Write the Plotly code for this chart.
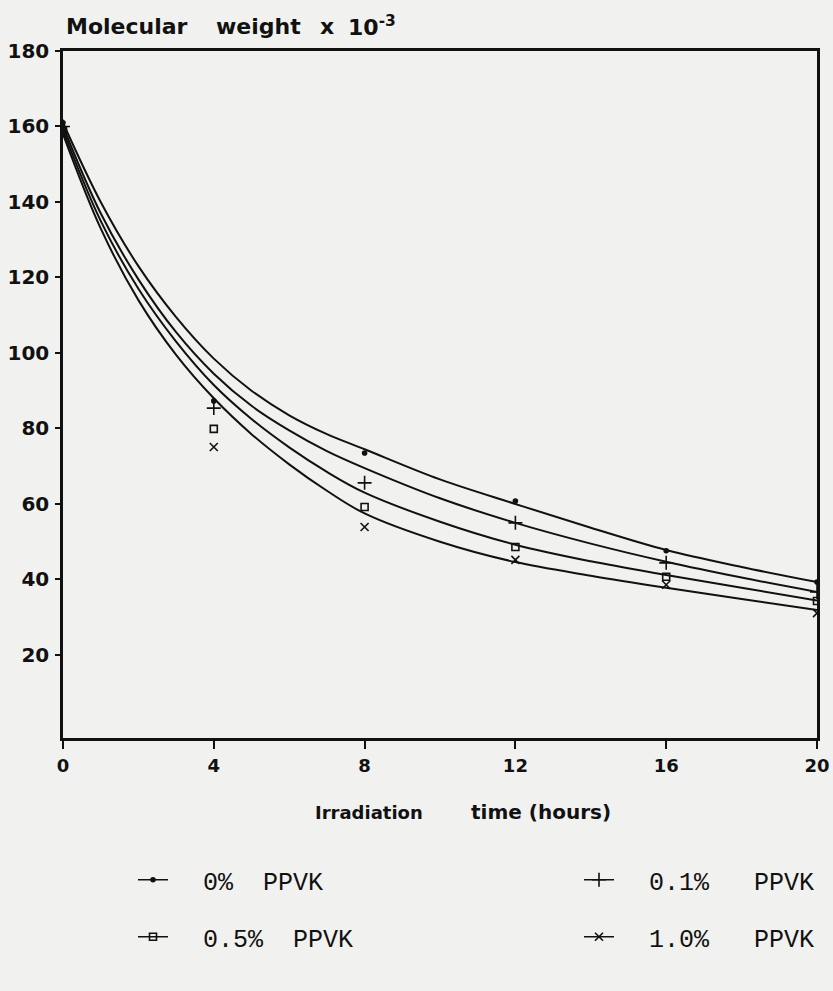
import plotly.graph_objects as go

# ---- data ----
times = [0, 4, 8, 12, 16, 20]
series_names = ["\u00a0\u00a00%\u00a0\u00a0PPVK", "\u00a0\u00a00.1%\u00a0\u00a0\u00a0PPVK",
                "\u00a0\u00a00.5%\u00a0\u00a0PPVK", "\u00a0\u00a01.0%\u00a0\u00a0\u00a0PPVK"]
mw_0 = [161, 87.3, 73.5, 60.8, 47.6, 39.3]
mw_01 = [160, 85.4, 65.6, 55.0, 44.4, 36.7]
mw_05 = [159, 79.9, 59.2, 48.6, 40.7, 34.3]
mw_10 = [158, 75.1, 53.9, 45.2, 38.6, 31.1]

# fitted curves as drawn in the reference (read at these times)
curve_t = [0, 1, 2, 3, 4, 5, 6, 7, 8, 10, 12, 14, 16, 18, 20]
curve_0 = [161, 140, 123, 109.5, 98.5, 90, 83.5, 78.5, 74.5, 66.5, 60.0, 53.7, 47.8, 43.3, 39.3]
curve_01 = [160, 137, 119.5, 105.5, 94.5, 86, 79.5, 74, 69.5, 61.5, 55.0, 49.5, 44.7, 40.5, 36.7]
curve_05 = [159, 135, 117, 103, 91.5, 82.5, 75, 68.5, 63, 55.3, 49.2, 44.8, 41.2, 37.8, 34.4]
curve_10 = [158, 133, 114, 99.5, 88, 78.5, 70.5, 63.5, 57.5, 50, 44.6, 41.0, 37.8, 34.8, 31.9]

x_ticks = [0, 4, 8, 12, 16, 20]
y_ticks = [20, 40, 60, 80, 100, 120, 140, 160, 180]

points = [mw_0, mw_01, mw_05, mw_10]
curves = [curve_0, curve_01, curve_05, curve_10]
symbols = ["circle", "cross-thin", "square-open", "x-thin"]
sizes = [4, 10, 7, 8]

BLACK = "#111111"
BG = "#f1f1ef"

# layout geometry (pixels)
W, H = 833, 991
L, R, T, B = 63, 16, 51, 253
PW = W - L - R
PH = H - T - B

def px_x(px):
    return (px - L) / PW

def px_y(py):
    return (H - B - py) / PH

fig = go.Figure()

for c in curves:
    fig.add_trace(go.Scatter(x=curve_t, y=c, mode="lines",
                             line=dict(color=BLACK, width=2, shape="spline", smoothing=1.0),
                             showlegend=False, hoverinfo="skip"))

for i, p in enumerate(points):
    fig.add_trace(go.Scatter(x=times, y=p, mode="markers", showlegend=False,
                             marker=dict(symbol=symbols[i], size=sizes[i], color=BLACK,
                                         line=dict(color=BLACK, width=1.6))))

# legend entries (one legend per entry so the 2x2 layout matches)
legend_names = ["legend", "legend2", "legend3", "legend4"]
for i in range(4):
    fig.add_trace(go.Scatter(x=[None], y=[None], mode="lines+markers", name=series_names[i],
                             legend=legend_names[i],
                             line=dict(color=BLACK, width=1.5),
                             marker=dict(symbol=symbols[i], size=sizes[i], color=BLACK,
                                         line=dict(color=BLACK, width=1.6))))

leg_font = dict(family="Liberation Mono", size=25, color=BLACK)
leg_pos = [(133, 880), (579, 880), (133, 937), (579, 937)]
leg_layout = {}
for i, name in enumerate(legend_names):
    leg_layout[name] = dict(x=px_x(leg_pos[i][0]), y=px_y(leg_pos[i][1]), xanchor="left", yanchor="middle",
                            bgcolor="rgba(0,0,0,0)", font=leg_font, itemwidth=30)

y_tick_font = dict(family="DejaVu Sans", size=20, color=BLACK, weight="bold")
x_tick_font = dict(family="DejaVu Sans", size=18, color=BLACK, weight="bold")
title_font = dict(family="DejaVu Sans", size=22, color=BLACK, weight="bold")

annotations = []
for txt, xpx in [("Molecular", 64), ("weight", 214), ("x", 318), ("10<sup>-3</sup>", 346)]:
    annotations.append(dict(text=txt, x=px_x(xpx), y=px_y(26), xref="paper", yref="paper",
                            xanchor="left", yanchor="middle", showarrow=False, font=title_font))
for txt, xpx, fs in [("Irradiation", 313, 18), ("time (hours)", 469, 20)]:
    annotations.append(dict(text=txt, x=px_x(xpx), y=px_y(812), xref="paper", yref="paper",
                            xanchor="left", yanchor="middle", showarrow=False,
                            font=dict(family="DejaVu Sans", size=fs, color=BLACK, weight="bold")))

fig.update_layout(
    width=W, height=H, autosize=False,
    margin=dict(l=L, r=R, t=T, b=B, autoexpand=False),
    paper_bgcolor=BG, plot_bgcolor=BG,
    annotations=annotations,
    xaxis=dict(range=[0, 20], tickvals=x_ticks, ticktext=[str(v) for v in x_ticks],
               showgrid=False, zeroline=False, showline=True, linecolor=BLACK, linewidth=2.5,
               mirror=True, ticks="outside", ticklen=8, tickwidth=2, tickcolor=BLACK,
               tickfont=x_tick_font, ticklabelstandoff=2, automargin=False),
    yaxis=dict(range=[-2, 180], tickvals=y_ticks, ticktext=[str(v) for v in y_ticks],
               showgrid=False, zeroline=False, showline=True, linecolor=BLACK, linewidth=2.5,
               mirror=True, ticks="outside", ticklen=5, tickwidth=2, tickcolor=BLACK,
               tickfont=y_tick_font, ticklabelstandoff=2, automargin=False),
    **leg_layout,
)

fig.write_html("out.html")
